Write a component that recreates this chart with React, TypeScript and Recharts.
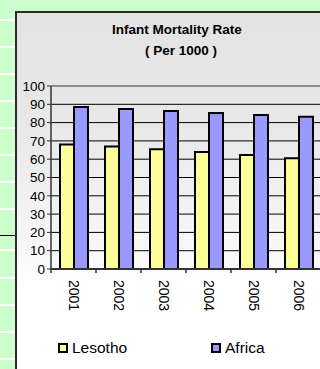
import React from 'react';
import { BarChart, Bar, XAxis, YAxis, CartesianGrid, ReferenceLine } from 'recharts';

const years = ['2001', '2002', '2003', '2004', '2005', '2006'];
const lesotho = [68, 67, 65.5, 64, 62.3, 60.5];
const africa = [88.5, 87.5, 86.3, 85.3, 84.2, 83.2];
const yTicks = [0, 10, 20, 30, 40, 50, 60, 70, 80, 90, 100];
const seriesNames = ['Lesotho', 'Africa'];
const seriesColors = ['#ffff99', '#9999ff'];
const titleLines = ['Infant Mortality Rate', '( Per 1000 )'];

const data = years.map((y, i) => ({ year: y, lesotho: lesotho[i], africa: africa[i] }));

const FONT = '"Liberation Sans", Arial, sans-serif';
const W = 340;
const H = 369;
const PLOT_LEFT = 51;
const PLOT_RIGHT_MARGIN = 19;
const BAND = (W - PLOT_LEFT - PLOT_RIGHT_MARGIN) / years.length;

const stripLines = [19, 46, 73, 100, 127, 154, 181, 208, 249, 277, 304, 331, 358];

const XTick = (props: any) => {
  const { x, y, payload } = props;
  const bx = x - BAND / 2;
  return (
    <g>
      <line x1={bx} x2={bx} y1={y} y2={y + 4} stroke="#333" strokeWidth={1.5} />
      <text
        x={x}
        y={y + 11}
        transform={`rotate(90, ${x}, ${y + 11})`}
        textAnchor="start"
        dominantBaseline="central"
        fontSize={14}
        fontFamily={FONT}
        fill="#000"
      >
        {payload.value}
      </text>
    </g>
  );
};

export default function App() {
  return (
    <div
      style={{
        position: 'absolute',
        left: 0,
        top: 0,
        width: 320,
        height: 369,
        overflow: 'hidden',
        background: '#ccffcc',
        fontFamily: FONT,
      }}
    >
      <svg width={320} height={369} style={{ position: 'absolute', left: 0, top: 0 }}>
        <defs>
          <linearGradient id="chartBg" x1="0" y1="0" x2="0" y2="1">
            <stop offset="0%" stopColor="#e3e3e3" />
            <stop offset="30%" stopColor="#e8e8e8" />
            <stop offset="65%" stopColor="#f8f8f8" />
            <stop offset="75%" stopColor="#ffffff" />
            <stop offset="100%" stopColor="#ffffff" />
          </linearGradient>
        </defs>
        {stripLines.map((y) => (
          <rect key={y} x={0} y={y} width={15} height={2} fill="#ffffff" />
        ))}
        <line x1={0} x2={16} y1={235.5} y2={235.5} stroke="#000" strokeWidth={1} />
        <rect x={16} y={12} width={330} height={370} fill="url(#chartBg)" stroke="#2b2b2b" strokeWidth={2} />
      </svg>
      <div style={{ position: 'absolute', left: 0, top: 0 }}>
        <BarChart
          width={W}
          height={H}
          data={data}
          margin={{ top: 86, right: PLOT_RIGHT_MARGIN, left: 0, bottom: 40 }}
          barGap={0}
          barCategoryGap="20%"
        >
          <CartesianGrid vertical={false} stroke="#000" strokeWidth={1} />
          <XAxis
            dataKey="year"
            height={60}
            tickSize={0}
            tickMargin={0}
            tickLine={false}
            axisLine={{ stroke: '#333', strokeWidth: 2 }}
            tick={<XTick />}
            interval={0}
          />
          <YAxis
            domain={[0, 100]}
            ticks={yTicks}
            interval={0}
            width={PLOT_LEFT}
            tickSize={4}
            tickMargin={2}
            axisLine={{ stroke: '#333', strokeWidth: 1.5 }}
            tickLine={{ stroke: '#333', strokeWidth: 1 }}
            tick={{ fill: '#000', fontSize: 13.5, fontFamily: FONT }}
          />
          <ReferenceLine y={100} stroke="#8c8c8c" strokeWidth={2} />
          <Bar dataKey="lesotho" name={seriesNames[0]} fill={seriesColors[0]} stroke="#000" strokeWidth={2} isAnimationActive={false} />
          <Bar dataKey="africa" name={seriesNames[1]} fill={seriesColors[1]} stroke="#000" strokeWidth={2} isAnimationActive={false} />
        </BarChart>
      </div>
      <svg width={320} height={369} style={{ position: 'absolute', left: 0, top: 0, pointerEvents: 'none' }}>
        <text x={177} y={34} textAnchor="middle" fontSize={13.5} fontWeight="bold" fontFamily={FONT} fill="#000">
          {titleLines[0]}
        </text>
        <text x={181} y={55} textAnchor="middle" fontSize={13.5} fontWeight="bold" fontFamily={FONT} fill="#000">
          {titleLines[1]}
        </text>
        {seriesNames.map((name, i) => {
          const lx = i === 0 ? 59 : 212;
          return (
            <g key={name}>
              <rect x={lx} y={344} width={8} height={8} fill={seriesColors[i]} stroke="#000" strokeWidth={2} />
              <text x={lx + 13} y={353.3} fontSize={15.5} fontFamily={FONT} fill="#000">
                {name}
              </text>
            </g>
          );
        })}
      </svg>
    </div>
  );
}
